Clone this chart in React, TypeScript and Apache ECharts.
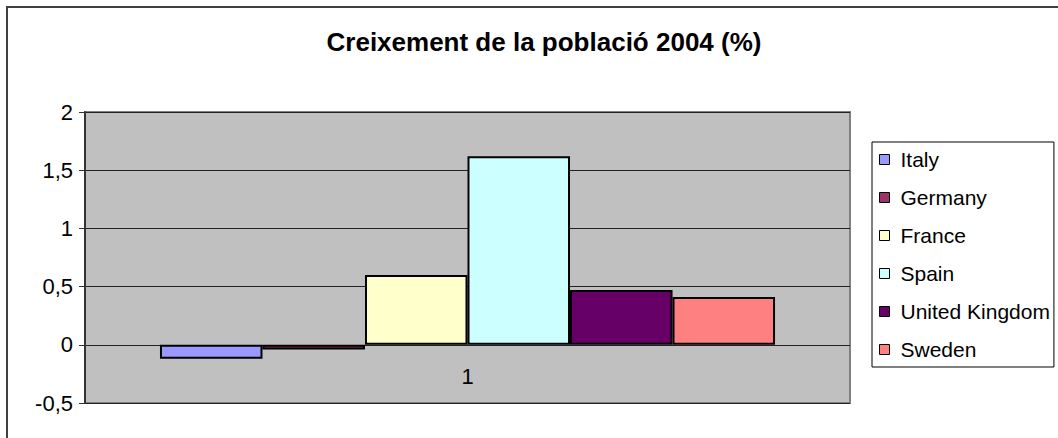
import React, { useEffect, useRef } from "react";
import * as echarts from "echarts";

const categories = ["1"];
const seriesNames = ["Italy", "Germany", "France", "Spain", "United Kingdom", "Sweden"];
const seriesValues = [-0.12, -0.04, 0.6, 1.62, 0.47, 0.41];
const seriesColors = ["#9999FF", "#993366", "#FFFFCC", "#CCFFFF", "#660066", "#FF8080"];
const titleText = "Creixement de la població 2004 (%)";

export default function App() {
  const ref = useRef<HTMLDivElement>(null);
  useEffect(() => {
    document.body.style.margin = "0";
    const chart = echarts.init(ref.current!, null, { renderer: "svg" });
    const font = "'Liberation Sans', Arial, sans-serif";
    chart.setOption({
      animation: false,
      backgroundColor: "#fff",
      textStyle: { fontFamily: font },
      title: {
        text: titleText,
        left: 539,
        textAlign: "center",
        top: 24,
        textStyle: { fontSize: 26, fontWeight: "bold", color: "#000", fontFamily: font },
      },
      graphic: [
        { type: "line", shape: { x1: 6, y1: 7, x2: 1058, y2: 7 }, style: { stroke: "#404040", lineWidth: 2 } },
        { type: "line", shape: { x1: 7, y1: 6, x2: 7, y2: 438 }, style: { stroke: "#404040", lineWidth: 2 } },
      ],
      grid: {
        left: 85,
        top: 112,
        width: 765,
        height: 291,
        show: true,
        backgroundColor: "#C0C0C0",
        borderColor: "#808080",
        borderWidth: 2,
      },
      legend: {
        orient: "vertical",
        left: 872,
        top: 142,
        data: seriesNames,
        icon: "rect",
        itemWidth: 10,
        itemHeight: 10,
        itemGap: 17,
        padding: [7, 4, 7, 7],
        borderColor: "#000",
        borderWidth: 1,
        backgroundColor: "#fff",
        itemStyle: { borderColor: "#000", borderWidth: 1 },
        textStyle: { fontSize: 21, color: "#000", lineHeight: 20, fontFamily: font, padding: [0, 0, 0, 6] },
      },
      xAxis: {
        type: "category",
        data: categories,
        axisLine: { show: false, onZero: false },
        axisTick: { show: false },
        axisLabel: { fontSize: 22, color: "#000", margin: -38, verticalAlign: "top" },
      },
      yAxis: {
        type: "value",
        min: -0.5,
        max: 2,
        interval: 0.5,
        axisLine: { show: true, lineStyle: { color: "#333", width: 2 } },
        axisTick: { show: true, length: 6, lineStyle: { color: "#333" } },
        axisLabel: {
          fontSize: 22,
          color: "#000",
          margin: 12,
          formatter: (v: number) => String(v).replace(".", ","),
        },
        splitLine: { show: true, lineStyle: { color: "#222", width: 1 } },
      },
      series: seriesNames.map((name, i) => ({
        name,
        type: "bar",
        data: [seriesValues[i]],
        barGap: "0%",
        barCategoryGap: "19.6%",
        itemStyle: { color: seriesColors[i], borderColor: "#000", borderWidth: 2 },
      })),
    });
    return () => chart.dispose();
  }, []);
  return <div ref={ref} style={{ width: 1058, height: 438 }} />;
}
